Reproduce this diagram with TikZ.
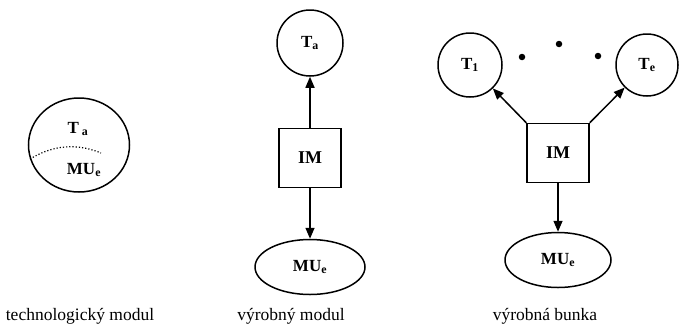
\documentclass[tikz,border=0pt]{standalone}
\usepackage{fontspec}
\setmainfont{Liberation Serif}
\usetikzlibrary{shapes.geometric,arrows.meta}
\begin{document}
\begin{tikzpicture}[x=1pt,y=-1pt,
  line width=1.5pt,
  tnode/.style={draw,circle,inner sep=0pt,font=\fontsize{17}{19}\selectfont\bfseries},
  enode/.style={draw,ellipse,inner sep=0pt,font=\fontsize{17}{19}\selectfont\bfseries},
  bnode/.style={draw,rectangle,inner sep=0pt,minimum width=62pt,minimum height=59pt,font=\fontsize{18}{20}\selectfont\bfseries},
  lab/.style={font=\fontsize{17.5}{20}\selectfont},
  arr/.style={-{Triangle[length=11pt,width=9pt]}},
  dotn/.style={circle,fill,inner sep=0pt,minimum size=6.5pt}]
\useasboundingbox (0,0) rectangle (679,327);
% technologicky modul
\node[enode,minimum width=101pt,minimum height=94pt] (c0) at (79,145) {};
\node[font=\fontsize{17}{19}\selectfont\bfseries] (t0) at (78,129) {T\,\textsubscript{a}};
\node[font=\fontsize{17}{19}\selectfont\bfseries] (m0) at (84,170) {MU\textsubscript{e}};
\draw[dotted,line width=1.2pt] (c0.196) .. controls (48,148) and (72,141) .. (101,153);
\node[lab] (l0) at (80,316) {technologický modul};
% vyrobny modul
\node[tnode,minimum size=66pt] (ta) at (310,43) {T\textsubscript{a}};
\node[bnode] (im1) at (310,158) {IM};
\node[enode,minimum width=110pt,minimum height=55pt] (mu1) at (310,267) {MU\textsubscript{e}};
\draw[arr] (im1) -- (ta);
\draw[arr] (im1) -- (mu1);
\node[lab] (l1) at (291,316) {výrobný modul};
% vyrobna bunka
\node[tnode,minimum size=64pt] (t1) at (470,65) {T\textsubscript{1}};
\node[tnode,minimum size=62pt] (te) at (647,65) {T\textsubscript{e}};
\node[dotn] (d1) at (522,57) {};
\node[dotn] (d2) at (559,44) {};
\node[dotn] (d3) at (598,56) {};
\node[bnode] (im2) at (558,153) {IM};
\node[enode,minimum width=106pt,minimum height=55pt] (mu2) at (558,260) {MU\textsubscript{e}};
\draw[arr] (im2.north west) -- (t1);
\draw[arr] (im2.north east) -- (te);
\draw[arr] (im2) -- (mu2);
\node[lab] (l2) at (545,316) {výrobná bunka};
\end{tikzpicture}
\end{document}
